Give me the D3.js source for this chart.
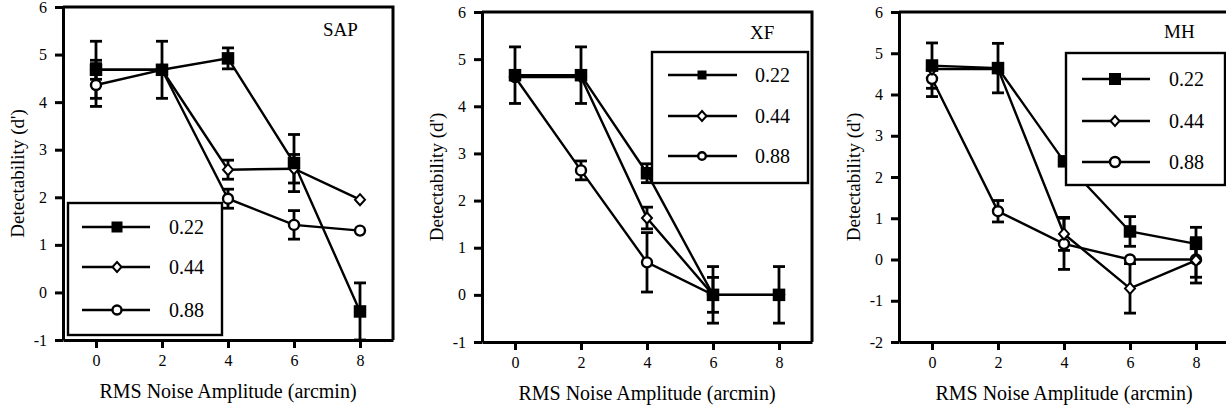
<!DOCTYPE html>
<html>
<head>
<meta charset="utf-8">
<script src="https://cdn.jsdelivr.net/npm/d3@7"></script>
<style>
  body { margin: 0; background: #fff; }
  svg { display: block; }
</style>
</head>
<body>
<div id="chart"></div>
<script>
// data
const noise = [0, 2, 4, 6, 8]
const levels = ['0.22', '0.44', '0.88']
const shapes = ['square', 'diamond', 'circle']

// means per level (0.22, 0.44, 0.88) and their error bars
const sapMeans = [
  [4.68, 4.68, 4.92, 2.72, -0.4],
  [4.68, 4.68, 2.58, 2.6, 1.95],
  [4.36, 4.68, 1.97, 1.42, 1.3],
]
const sapErrs = [
  [0.6, 0.6, 0.22, 0.6, 0.6],
  [0.2, 0, 0.2, 0.3, 0],
  [0.45, 0, 0.2, 0.3, 0],
]
const xfMeans = [
  [4.66, 4.66, 2.58, 0, 0],
  [4.62, 4.62, 1.63, 0, 0],
  [4.62, 2.64, 0.69, 0, 0],
]
const xfErrs = [
  [0.6, 0.6, 0.2, 0.6, 0.6],
  [0, 0, 0.23, 0.37, 0],
  [0, 0.2, 0.63, 0, 0],
]
const mhMeans = [
  [4.7, 4.64, 2.38, 0.68, 0.38],
  [4.62, 4.62, 0.62, -0.7, -0.02],
  [4.38, 1.17, 0.38, 0, 0],
]
const mhErrs = [
  [0.55, 0.6, 0, 0.36, 0.4],
  [0, 0, 0.4, 0.6, 0.55],
  [0.43, 0.26, 0.62, 0, 0.43],
]

const font = "'Liberation Serif', 'Times New Roman', serif"

// layout of the three panels
const panels = [
  {
    title: 'SAP', means: sapMeans, errs: sapErrs,
    left: 63, top: 7, bottom: 340, yMin: -1,
    titleX: 323, titleY: 36,
    legend: { x0: 68, y0: 203, x1: 222, y1: 335, rows: [227, 267, 310], lineX: [82, 150], markX: 117, textX: 169, sq: 11, circ: 4.5 },
  },
  {
    title: 'XF', means: xfMeans, errs: xfErrs,
    left: 482, top: 12, bottom: 342, yMin: -1,
    titleX: 750, titleY: 39,
    legend: { x0: 652, y0: 52, x1: 808, y1: 183, rows: [75, 116, 156], lineX: [668, 737], markX: 702, textX: 755, sq: 9, circ: 3.8 },
  },
  {
    title: 'MH', means: mhMeans, errs: mhErrs,
    left: 899, top: 12, bottom: 342, yMin: -2,
    titleX: 1164, titleY: 38,
    legend: { x0: 1066, y0: 53, x1: 1225, y1: 185, rows: [79, 121, 162], lineX: [1082, 1150], markX: 1115, textX: 1169, sq: 12, circ: 5 },
  },
]

const svg = d3.select('#chart')
  .append('svg')
  .attr('width', 1226)
  .attr('height', 411)

svg.append('rect')
  .attr('width', 1226)
  .attr('height', 411)
  .attr('fill', '#fff')

function drawMarker(g, shape, cx, cy, opts) {
  if (shape == 'square') {
    const s = opts.sq
    g.append('rect')
      .attr('x', cx - s / 2).attr('y', cy - s / 2)
      .attr('width', s).attr('height', s)
      .attr('fill', '#000')
  } else if (shape == 'diamond') {
    const w = opts.dw, h = opts.dh
    g.append('path')
      .attr('d', `M${cx},${cy - h}L${cx + w},${cy}L${cx},${cy + h}L${cx - w},${cy}Z`)
      .attr('fill', '#fff')
      .attr('stroke', '#000')
      .attr('stroke-width', 2)
  } else {
    g.append('circle')
      .attr('cx', cx).attr('cy', cy)
      .attr('r', opts.r)
      .attr('fill', '#fff')
      .attr('stroke', '#000')
      .attr('stroke-width', 2.4)
  }
}

panels.forEach((p) => {
  const right = p.left + 330
  const x = d3.scaleLinear([-1, 9], [p.left, right])
  const y = d3.scaleLinear([p.yMin, 6], [p.bottom, p.top])
  const g = svg.append('g')

  const line = d3.line()
    .x((d, i) => x(noise[i]))
    .y((d) => y(d))

  // lines
  g.append('g')
    .attr('fill', 'none')
    .attr('stroke', '#000')
    .attr('stroke-width', 2.4)
    .selectAll('path')
    .data(p.means)
    .join('path')
    .attr('d', (d) => line(d))

  // error bars
  const bars = g.append('g').attr('stroke', '#000').attr('stroke-width', 2.8)
  p.means.forEach((vals, s) => {
    vals.forEach((v, i) => {
      const e = p.errs[s][i]
      if (!e) return
      const cx = x(noise[i])
      bars.append('line')
        .attr('x1', cx).attr('x2', cx)
        .attr('y1', y(v - e)).attr('y2', y(v + e))
      ;[v - e, v + e].forEach((t) => {
        bars.append('line')
          .attr('x1', cx - 6).attr('x2', cx + 6)
          .attr('y1', y(t)).attr('y2', y(t))
      })
    })
  })

  // markers: circles first, squares last (on top)
  const marks = g.append('g')
  ;[2, 1, 0].forEach((s) => {
    p.means[s].forEach((v, i) => {
      drawMarker(marks, shapes[s], x(noise[i]), y(v), { sq: 12.5, dw: 5, dh: 5.5, r: 5 })
    })
  })

  // legend
  const L = p.legend
  const leg = g.append('g')
  leg.append('rect')
    .attr('x', L.x0).attr('y', L.y0)
    .attr('width', L.x1 - L.x0).attr('height', L.y1 - L.y0)
    .attr('fill', '#fff')
    .attr('stroke', '#000')
    .attr('stroke-width', 2.4)
  levels.forEach((lab, s) => {
    const ry = L.rows[s]
    leg.append('line')
      .attr('x1', L.lineX[0]).attr('x2', L.lineX[1])
      .attr('y1', ry).attr('y2', ry)
      .attr('stroke', '#000')
      .attr('stroke-width', 2.4)
    drawMarker(leg, shapes[s], L.markX, ry, { sq: L.sq, dw: 4.5, dh: 5, r: L.circ })
    leg.append('text')
      .attr('x', L.textX).attr('y', ry + 7)
      .attr('font-family', font)
      .attr('font-size', 20)
      .text(lab)
  })

  // frame (top and right)
  g.append('path')
    .attr('d', `M${p.left},${p.top}H${right}V${p.bottom}`)
    .attr('fill', 'none')
    .attr('stroke', '#000')
    .attr('stroke-width', 3)

  // axes
  const yAxis = g.append('g')
    .attr('transform', `translate(${p.left},0)`)
    .call(
      d3.axisLeft(y)
        .tickValues(d3.range(p.yMin, 7))
        .tickFormat((d) => String(d))
        .tickSize(8)
        .tickSizeOuter(0)
        .tickPadding(8)
    )
  const xAxis = g.append('g')
    .attr('transform', `translate(0,${p.bottom})`)
    .call(
      d3.axisBottom(x)
        .tickValues(noise)
        .tickFormat((d) => String(d))
        .tickSize(8)
        .tickSizeOuter(0)
        .tickPadding(7)
    )
  ;[yAxis, xAxis].forEach((a) => {
    a.attr('font-family', font).attr('font-size', 16)
    a.select('.domain').attr('stroke-width', 3)
    a.selectAll('.tick line').attr('stroke-width', 3)
    a.selectAll('.tick text').attr('fill', '#000')
  })

  // titles
  g.append('text')
    .attr('x', p.titleX).attr('y', p.titleY)
    .attr('font-family', font)
    .attr('font-size', 19)
    .text(p.title)

  g.append('text')
    .attr('x', x(4)).attr('y', p.bottom + 58)
    .attr('text-anchor', 'middle')
    .attr('font-family', font)
    .attr('font-size', 20)
    .text('RMS Noise Amplitude (arcmin)')

  g.append('text')
    .attr('transform', `translate(${p.left - 39},${(p.top + p.bottom) / 2}) rotate(-90)`)
    .attr('text-anchor', 'middle')
    .attr('font-family', font)
    .attr('font-size', 19)
    .text("Detectability (d')")
})
</script>
</body>
</html>
